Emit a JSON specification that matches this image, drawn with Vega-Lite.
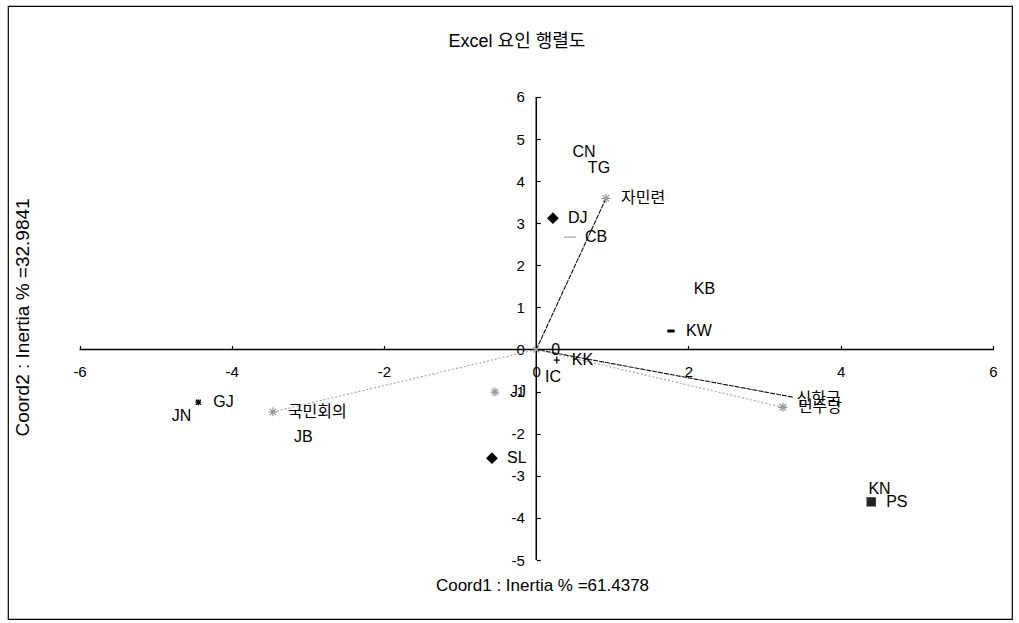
{
  "$schema": "https://vega.github.io/schema/vega-lite/v6.json",
  "width": 1004,
  "height": 613,
  "autosize": {"type": "none"},
  "padding": {"left": 8, "top": 6, "right": 7, "bottom": 4},
  "background": "white",
  "title": {
    "text": "Excel 요인 행렬도",
    "orient": "top",
    "anchor": "middle",
    "frame": "group",
    "offset": 0,
    "dy": 54,
    "dx": 7,
    "baseline": "middle",
    "fontSize": 18,
    "fontWeight": "normal",
    "font": "Liberation Sans, Noto Sans CJK KR",
    "color": "#000"
  },
  "config": {
    "view": {"stroke": "#000", "strokeWidth": 1.2},
    "axis": {
      "domain": false,
      "grid": false,
      "ticks": true,
      "tickSize": -4,
      "tickColor": "#000",
      "tickWidth": 1.2,
      "labelFont": "Liberation Sans",
      "labelFontSize": 15,
      "labelColor": "#000",
      "labelFlush": false,
      "labelOverlap": false,
      "titleFont": "Liberation Sans",
      "titleFontWeight": "normal",
      "titleColor": "#000",
      "titleBaseline": "middle",
      "titleAnchor": "middle"
    }
  },
  "datasets": {
    "axes": [
      {"x": -6, "x2": 6, "y": 0, "y2": 0},
      {"x": 0, "x2": 0, "y": -5, "y2": 6}
    ],
    "vectors": [
      {"name": "자민련", "x": 0.916, "y": 3.59, "group": "A"},
      {"name": "신한국", "x": 3.37, "y": -1.13, "group": "A"},
      {"name": "민주당", "x": 3.24, "y": -1.37, "group": "B"},
      {"name": "국민회의", "x": -3.46, "y": -1.48, "group": "B"}
    ],
    "points": [
      {"label": "0", "x": 0, "y": 0, "series": "X"},
      {"label": "자민련", "x": 0.916, "y": 3.59, "series": "S"},
      {"label": "DJ", "x": 0.219, "y": 3.12, "series": "D"},
      {"label": "CB", "x": 0.443, "y": 2.67, "series": "C"},
      {"label": "KW", "x": 1.77, "y": 0.44, "series": "W"},
      {"label": "KK", "x": 0.27, "y": -0.25, "series": "P"},
      {"label": "JJ", "x": -0.543, "y": -1.01, "series": "S"},
      {"label": "GJ", "x": -4.44, "y": -1.25, "series": "G"},
      {"label": "국민회의", "x": -3.46, "y": -1.48, "series": "S"},
      {"label": "SL", "x": -0.582, "y": -2.58, "series": "D"},
      {"label": "민주당", "x": 3.24, "y": -1.37, "series": "S"},
      {"label": "PS", "x": 4.40, "y": -3.62, "series": "Q"},
      {"label": "CN", "x": 0.627, "y": 4.69, "series": "N"},
      {"label": "TG", "x": 0.824, "y": 4.31, "series": "N"},
      {"label": "KB", "x": 2.21, "y": 1.44, "series": "N"},
      {"label": "IC", "x": 0.22, "y": -0.65, "series": "N"},
      {"label": "JN", "x": -4.66, "y": -1.58, "series": "N"},
      {"label": "JB", "x": -3.06, "y": -2.08, "series": "N"},
      {"label": "KN", "x": 4.51, "y": -3.31, "series": "N"},
      {"label": "신한국", "x": 3.71, "y": -1.18, "series": "N"}
    ]
  },
  "encoding": {
    "x": {
      "field": "x",
      "type": "quantitative",
      "scale": {"domain": [-6.94, 6.25], "nice": false, "zero": false},
      "axis": {
        "title": "Coord1 : Inertia % =61.4378",
        "values": [-6, -4, -2, 0, 2, 4, 6],
        "labelExpr": "'' + datum.value",
        "offset": -269.5,
        "labelPadding": 19,
        "titleFontSize": 17,
        "titleX": 534,
        "titleY": 235.5
      }
    },
    "y": {
      "field": "y",
      "type": "quantitative",
      "scale": {"domain": [-6.4, 8.16], "nice": false, "zero": false},
      "axis": {
        "title": "Coord2 : Inertia % =32.9841",
        "values": [-5, -4, -3, -2, -1, 0, 1, 2, 3, 4, 5, 6],
        "labelExpr": "'' + datum.value",
        "offset": -528.3,
        "labelPadding": 16,
        "titleFontSize": 19,
        "titleAngle": -90,
        "titleX": -514.3,
        "titleY": 311
      }
    }
  },
  "layer": [
    {
      "data": {"name": "axes"},
      "mark": {"type": "rule", "color": "#000", "strokeWidth": 1.5},
      "encoding": {
        "x2": {"field": "x2"},
        "y2": {"field": "y2"}
      }
    },
    {
      "data": {"name": "vectors"},
      "mark": {"type": "rule", "strokeWidth": 1.1},
      "encoding": {
        "x2": {"datum": 0},
        "y2": {"datum": 0},
        "color": {
          "field": "group",
          "type": "nominal",
          "scale": {"domain": ["A", "B"], "range": ["#111111", "#a0a0a0"]},
          "legend": null
        },
        "strokeDash": {
          "field": "group",
          "type": "nominal",
          "scale": {"domain": ["A", "B"], "range": [[5, 1], [2, 2]]},
          "legend": null
        }
      }
    },
    {
      "data": {"name": "points"},
      "transform": [{"filter": "datum.series !== 'N'"}],
      "mark": {"type": "point", "size": 100, "opacity": 1, "strokeWidth": 1.3},
      "encoding": {
        "shape": {
          "field": "series",
          "type": "nominal",
          "scale": {
            "domain": ["D", "Q", "W", "S", "G", "C", "P", "X"],
            "range": [
              "M0,-1L1,0L0,1L-1,0Z",
              "M-0.8,-0.8L0.8,-0.8L0.8,0.8L-0.8,0.8Z",
              "M-0.6,-0.15L0.6,-0.15L0.6,0.15L-0.6,0.15Z",
              "M-0.9,0L0.9,0M0,-0.9L0,0.9M-0.65,-0.65L0.65,0.65M-0.65,0.65L0.65,-0.65",
              "M-0.6,0L0.6,0M0,-0.6L0,0.6M-0.5,-0.5L0.5,0.5M-0.5,0.5L0.5,-0.5",
              "M-1.2,0L1.2,0",
              "M-0.6,0L0.6,0M0,-0.7L0,0.7",
              "M-0.6,-0.6L0.6,0.6M-0.6,0.6L0.6,-0.6"
            ]
          },
          "legend": null
        },
        "stroke": {
          "field": "series",
          "type": "nominal",
          "scale": {
            "domain": ["D", "Q", "W", "S", "G", "C", "P", "X"],
            "range": ["#000000", "#222222", "#000000", "#9a9a9a", "#000000", "#a8a8a8", "#000000", "#a8a8a8"]
          },
          "legend": null
        },
        "fill": {
          "field": "series",
          "type": "nominal",
          "scale": {
            "domain": ["D", "Q", "W", "S", "G", "C", "P", "X"],
            "range": ["#000000", "#222222", "#000000", "transparent", "transparent", "transparent", "transparent", "transparent"]
          },
          "legend": null
        }
      }
    },
    {
      "data": {"name": "points"},
      "transform": [{"filter": "datum.series !== 'N'"}],
      "mark": {
        "type": "text",
        "align": "left",
        "baseline": "middle",
        "dx": 15,
        "fontSize": 16,
        "font": "Liberation Sans, Noto Sans CJK KR",
        "color": "#000"
      },
      "encoding": {
        "text": {"field": "label"}
      }
    },
    {
      "data": {"name": "points"},
      "transform": [{"filter": "datum.series === 'N'"}],
      "mark": {
        "type": "text",
        "align": "center",
        "baseline": "middle",
        "fontSize": 16,
        "font": "Liberation Sans, Noto Sans CJK KR",
        "color": "#000"
      },
      "encoding": {
        "text": {"field": "label"}
      }
    }
  ]
}
